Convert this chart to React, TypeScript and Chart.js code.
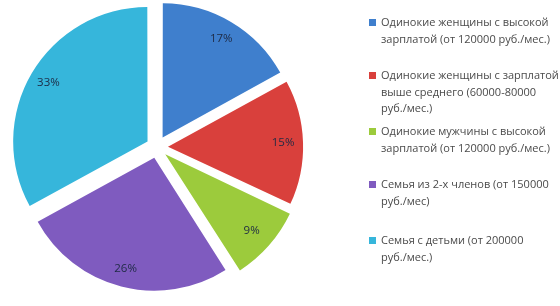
import React, { useEffect, useRef } from "react";
import { Chart, registerables } from "chart.js";

Chart.register(...registerables);

const categories: string[][] = [
  ["Одинокие женщины с высокой", "зарплатой (от 120000 руб./мес.)"],
  ["Одинокие женщины с зарплатой", "выше среднего (60000-80000", "руб./мес.)"],
  ["Одинокие мужчины с высокой", "зарплатой (от 120000 руб./мес.)"],
  ["Семья из 2-х членов (от 150000", "руб./мес)"],
  ["Семья с детьми (от 200000", "руб./мес.)"],
];
const values: number[] = [17, 15, 9, 26, 33];
const valueLabels: string[] = ["17%", "15%", "9%", "26%", "33%"];
const colors: string[] = ["#3f7fcd", "#d9403c", "#9ccb3c", "#7f5bbf", "#36b6db"];
const legendTops: number[] = [14, 67, 123, 176, 232];

const OFFSET = 44;

const labelPlugin = {
  id: "sliceLabels",
  afterDatasetsDraw(chart: any) {
    const ctx = chart.ctx;
    const meta = chart.getDatasetMeta(0);
    ctx.save();
    ctx.font = "11.5px 'Open Sans', sans-serif";
    ctx.fillStyle = "#1e2a44";
    ctx.textAlign = "center";
    ctx.textBaseline = "middle";
    meta.data.forEach((arc: any, i: number) => {
      const { x, y, startAngle, endAngle, outerRadius } = arc.getProps(
        ["x", "y", "startAngle", "endAngle", "outerRadius"],
        true
      );
      const mid = (startAngle + endAngle) / 2;
      const shift = OFFSET / 4;
      const d = shift + outerRadius * 0.866;
      ctx.fillText(valueLabels[i], x + Math.cos(mid) * d, y + Math.sin(mid) * d);
    });
    ctx.restore();
  },
};

export default function App() {
  const ref = useRef<HTMLCanvasElement>(null);
  useEffect(() => {
    document.body.style.margin = "0";
    const chart = new Chart(ref.current!, {
      type: "pie",
      data: {
        labels: categories.map((c) => c.join(" ")),
        datasets: [
          {
            data: values,
            backgroundColor: colors,
            borderWidth: 0,
            offset: OFFSET,
            hoverOffset: 0,
          },
        ],
      },
      options: {
        responsive: false,
        animation: false,
        radius: 133,
        layout: { padding: { left: 0, right: 246, top: 0, bottom: 12 } },
        plugins: {
          legend: { display: false },
          tooltip: { enabled: false },
        },
      } as any,
      plugins: [labelPlugin],
    });
    return () => chart.destroy();
  }, []);

  return (
    <div style={{ position: "relative", width: 560, height: 306, background: "#fff", overflow: "hidden" }}>
      <canvas ref={ref} width={560} height={306} style={{ position: "absolute", left: 0, top: 0 }} />
      {categories.map((lines, i) => (
        <div
          key={i}
          style={{
            position: "absolute",
            left: 369,
            top: legendTops[i],
            fontFamily: "'Open Sans', sans-serif",
            fontSize: 11,
            lineHeight: "16.5px",
            color: "#4a4a4a",
            whiteSpace: "nowrap",
          }}
        >
          <span
            style={{
              position: "absolute",
              left: 0,
              top: 5,
              width: 7,
              height: 7,
              background: colors[i],
            }}
          />
          <div style={{ marginLeft: 12 }}>
            {lines.map((l, j) => (
              <div key={j}>{l}</div>
            ))}
          </div>
        </div>
      ))}
    </div>
  );
}
